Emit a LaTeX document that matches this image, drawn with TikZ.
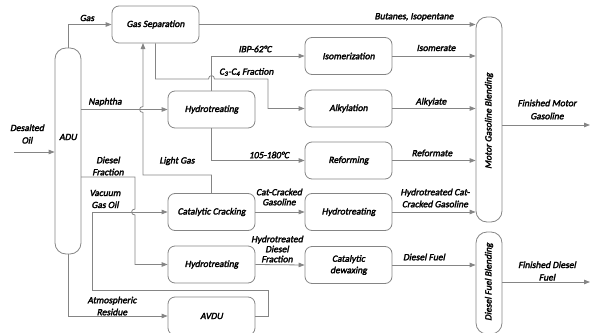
\documentclass[tikz,border=0pt]{standalone}
\usepackage{fontspec}
\setmainfont{Carlito}[FakeBold=2.5, FakeSlant=0.2]
\usetikzlibrary{arrows.meta}
\definecolor{ln}{HTML}{858585}
\newcommand{\lblfont}[1]{\fontsize{9.5}{#1}\selectfont}
\tikzset{
  every node/.style={font=\lblfont{11}, text=black},
  unit/.style={draw=ln, line width=0.8pt, rounded corners=7pt, minimum width=87pt, minimum height=37pt, inner sep=1pt, align=center},
  column/.style={draw=ln, line width=0.8pt, rounded corners=11pt, minimum width=26pt, inner sep=0pt},
  flow/.style={draw=ln, line width=0.8pt},
  arr/.style={flow, -{Triangle[length=6pt,width=4.5pt]}},
  lbl/.style={align=center, inner sep=0pt},
}
\begin{document}
\begin{tikzpicture}[x=1pt,y=-1pt]
\useasboundingbox (0,0) rectangle (591,332);
% units
\node[unit] (gassep) at (155.5,24.5) {Gas Separation};
\node[unit] (ht1) at (211.5,109.5) {Hydrotreating};
\node[unit] (isom) at (348.5,56) {Isomerization};
\node[unit] (alky) at (348.5,108.5) {Alkylation};
\node[unit] (reform) at (348.5,160.5) {Reforming};
\node[unit] (ht2) at (348.5,212) {Hydrotreating};
\node[unit, font=\lblfont{11.5}] (dewax) at (348.5,265) {Catalytic\\dewaxing};
\node[unit] (cc) at (211.5,212) {Catalytic Cracking};
\node[unit] (ht3) at (211.5,264.5) {Hydrotreating};
\node[unit, minimum height=38pt] (avdu) at (211.5,316) {AVDU};
% columns
\node[column, minimum height=206pt] (adu) at (68,151) {};
\node[column, minimum height=205pt] (mgb) at (489,119.5) {};
\node[column, minimum height=102pt] (dfb) at (489,283) {};
\node[lbl] (adulbl) at (68,137) {ADU};
\node[lbl, rotate=90] (mgblbl) at (489,121) {Motor Gasoline Blending};
\node[lbl, rotate=90] (dfblbl) at (489,282) {Diesel Fuel Blending};
% coordinates
\coordinate (oilin) at (14,152);
\coordinate (motorout) at (590,125);
\coordinate (dieselout) at (590,282);
% flows
\draw[arr] (oilin) -- (oilin -| adu.west);
\draw[arr] (adu.north) |- (gassep.west);
\draw[arr] (gassep.east) -- (gassep.east -| mgb.west);
\draw[arr] (gassep.south) -- (155.5,79) -- (208.5,79) .. controls (208.5,74.5) and (214.5,74.5) .. (214.5,79) -- (268,79) -- (268,108.5) -- (alky.west);
\draw[arr] (ht1.north) |- (isom.west);
\draw[arr] (adu.east |- ht1.west) -- (ht1.west);
\draw[arr] (cc.north) -- (211.5,175) -- (143,175) -- (143,112.5) .. controls (138.5,112.5) and (138.5,106.5) .. (143,106.5) -- (143,43);
\draw[arr] (ht1.south) |- (reform.west);
\draw[arr] (isom.east) -- (isom.east -| mgb.west);
\draw[arr] (alky.east) -- (alky.east -| mgb.west);
\draw[arr] (reform.east) -- (reform.east -| mgb.west);
\draw[arr] (ht2.east) -- (ht2.east -| mgb.west);
\draw[arr] (cc.east) -- (ht2.west);
\draw[arr] (ht3.east) -- (dewax.west);
\draw[arr] (dewax.east) -- (dewax.east -| dfb.west);
\draw[arr] (motorout -| mgb.east) -- (motorout);
\draw[arr] (dieselout -| dfb.east) -- (dieselout);
\draw[arr] (81,177) -- (135,177) -- (135,209) .. controls (130.5,209) and (130.5,215) .. (135,215) -- (135,264.5) -- (ht3.west);
\draw[arr] (avdu.east) -- (268,316) -- (268,290) -- (92,290) -- (92,212) -- (cc.west);
\draw[arr] (adu.south) |- (avdu.west);
% labels
\node[lbl] (lgas) at (87,18) {Gas};
\node[lbl] (lbut) at (414,17) {Butanes, Isopentane};
\node[lbl] (libp) at (255,49) {IBP-62°C};
\node[lbl, anchor=west] (lc34) at (219,72) {C\textsubscript{3}-C\textsubscript{4} Fraction};
\node[lbl] (lnap) at (105,102) {Naphtha};
\node[lbl] (l105) at (269,155) {105-180°C};
\node[lbl] (llg) at (177,161) {Light Gas};
\node[lbl, font=\lblfont{12.5}] (loil) at (27,134) {Desalted\\Oil};
\node[lbl, font=\lblfont{12}] (ldf) at (108,166) {Diesel\\Fraction};
\node[lbl, font=\lblfont{12}] (lvgo) at (105,199) {Vacuum\\Gas Oil};
\node[lbl, font=\lblfont{10}] (lccg) at (279,197) {Cat-Cracked\\Gasoline};
\node[lbl, font=\lblfont{10}] (lhdf) at (277,249) {Hydrotreated\\Diesel\\Fraction};
\node[lbl, font=\lblfont{12}] (lar) at (112,306) {Atmospheric\\Residue};
\node[lbl] (lisom) at (436,48) {Isomerate};
\node[lbl] (lalky) at (431,102) {Alkylate};
\node[lbl] (lref) at (432,153) {Reformate};
\node[lbl, font=\lblfont{12}] (lhcg) at (435,198) {Hydrotreated Cat-\\Cracked Gasoline};
\node[lbl] (ldfuel) at (424,257) {Diesel Fuel};
\node[lbl, font=\lblfont{13}] (lfmg) at (547,109.5) {Finished Motor\\Gasoline};
\node[lbl, font=\lblfont{12.5}] (lfdf) at (547,271) {Finished Diesel\\Fuel};
\end{tikzpicture}
\end{document}
